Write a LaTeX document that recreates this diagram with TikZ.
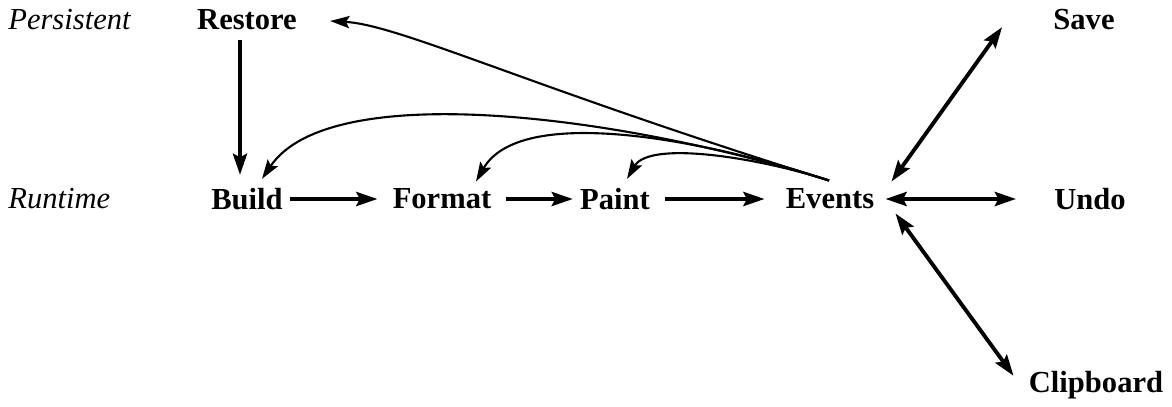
\documentclass[tikz,border=0pt]{standalone}
\usepackage{fontspec}
\setmainfont{Liberation Serif}
\usetikzlibrary{arrows.meta}

\begin{document}
\begin{tikzpicture}[x=0.02cm,y=-0.02cm,
    stage/.style={font=\fontsize{17.4}{20}\selectfont\bfseries,inner sep=0.14cm},
    lbl/.style={font=\fontsize{17.4}{20}\selectfont\itshape,inner sep=0.14cm,anchor=west},
    flow/.style={line width=2.2pt,-{Stealth[length=12pt,width=8pt,inset=2pt]}},
    both/.style={line width=2.2pt,{Stealth[length=12pt,width=8pt,inset=2pt]}-{Stealth[length=12pt,width=8pt,inset=2pt]}},
    back/.style={line width=1.2pt,-{Stealth[length=11pt,width=7pt,inset=2pt]}}]
\useasboundingbox (0,0) rectangle (1172,406);
% levels
\node[lbl] (persistent) at (1,20) {Persistent};
\node[lbl] (runtime) at (1,199) {Runtime};
% stages
\node[stage] (restore) at (247,20) {Restore};
\node[stage] (save) at (1084,20) {Save};
\node[stage] (build) at (247,199) {Build};
\node[stage] (format) at (442,199) {Format};
\node[stage] (paint) at (615,199) {Paint};
\node[stage] (events) at (830,199) {Events};
\node[stage] (undo) at (1090,199) {Undo};
\node[stage] (clipboard) at (1096,385) {Clipboard};
\coordinate (ev) at ([shift={(-1,-1)}]events.north);
% forward
\draw[flow] ([shift={(-7,2.5)}]restore.south)--([shift={(-7,-6)}]build.north);
\draw[flow] (build)--([shift={(-8,0)}]format.west);
\draw[flow] ([shift={(7,0)}]format.east)--(paint);
\draw[flow] ([shift={(8,0)}]paint.east)--([shift={(-14,0)}]events.west);
\draw[both] ([shift={(4,0)}]events.east)--([shift={(-31,0)}]undo.west);
\draw[both] ([shift={(10,0)}]events.north east)--([shift={(-44,-10.5)}]save.south west);
\draw[both] ([shift={(14,-3)}]events.south east)--([shift={(-8,12)}]clipboard.north west);
% back from events
\draw[back] (ev) .. controls (529,87) and (400,25) .. ([shift={(26,1)}]restore.east);
\draw[back] (ev) .. controls (620,115) and (330,78) .. ([shift={(15,-2)}]build.north);
\draw[back] (ev) .. controls (700,138) and (520,105) .. ([shift={(34,0)}]format.north);
\draw[back] (ev) .. controls (760,158) and (650,140) .. ([shift={(12,-2)}]paint.north);
\end{tikzpicture}
\end{document}
